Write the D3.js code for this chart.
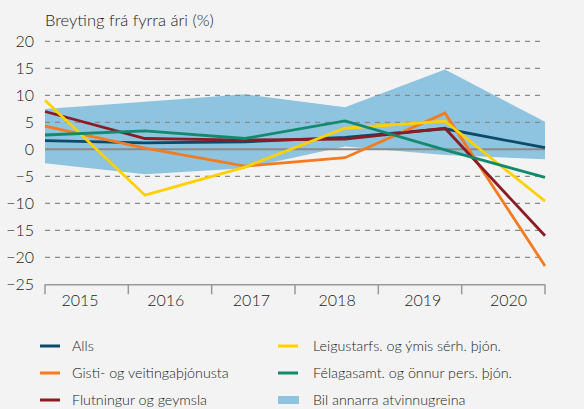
<!DOCTYPE html>
<html lang="is">
<head>
<meta charset="UTF-8">
<script src="https://d3js.org/d3.v7.min.js"></script>
<style>
  body { margin: 0; background: #f3f3f3; }
  svg { display: block; font-family: Lato, "Noto Sans", sans-serif; font-weight: 300; }
</style>
</head>
<body>
<svg width="584" height="409"></svg>
<script>
// Ár
const years = ["2015", "2016", "2017", "2018", "2019", "2020"];

// Breyting frá fyrra ári (%)
const alls = [1.6, 1.2, 1.4, 2.2, 3.8, 0.3];
const gisti = [4.3, 0.2, -3.1, -1.55, 6.7, -21.6];
const flutningur = [7.0, 2.0, 1.7, 1.9, 3.9, -16.0];
const leigustarfs = [9.1, -8.5, -3.3, 3.9, 5.2, -9.6];
const felagasamt = [2.65, 3.4, 2.0, 5.25, -0.1, -5.2];

// Bil annarra atvinnugreina
const bilHaest = [7.45, 8.8, 10.2, 7.8, 14.8, 5.1];
const bilLaegst = [-2.6, -4.6, -3.5, 0.5, -1.05, -1.85];

const yTicks = [20, 15, 10, 5, 0, -5, -10, -15, -20, -25];

const series = [
  { name: "Alls", values: alls, color: "#0b4a6b" },
  { name: "Gisti- og veitingaþjónusta", values: gisti, color: "#f47b20" },
  { name: "Flutningur og geymsla", values: flutningur, color: "#8b1c24" },
  { name: "Leigustarfs. og ýmis sérh. þjón.", values: leigustarfs, color: "#ffd100" },
  { name: "Félagasamt. og önnur pers. þjón.", values: felagasamt, color: "#138a6e" }
];
const bandColor = "#8ec4df";

const svg = d3.select("svg");
const mLeft = 45, mRight = 545, mTop = 41.3, mBottom = 284.3;

const x = d3.scalePoint().domain(years).range([mLeft, mRight]);
const xBand = d3.scaleBand().domain(years).range([mLeft, mRight]);
const xLabel = d3.scalePoint().domain(years).range([79.5, 508]);
const y = d3.scaleLinear().domain([-25, 20]).range([mBottom, mTop]);

// titill
svg.append("text")
  .attr("x", 45).attr("y", 26)
  .attr("font-size", 16.5).attr("fill", "#222")
  .text("Breyting frá fyrra ári (%)");

// bil annarra atvinnugreina
const area = d3.area()
  .x((d, i) => x(years[i]))
  .y0((d, i) => y(bilLaegst[i]))
  .y1(d => y(d));
svg.append("path")
  .datum(bilHaest)
  .attr("d", area)
  .attr("fill", bandColor);

// gridlínur
svg.append("g")
  .selectAll("line")
  .data(yTicks.filter(t => t !== 0 && t !== -25))
  .join("line")
  .attr("x1", mLeft).attr("x2", 541)
  .attr("y1", d => y(d)).attr("y2", d => y(d))
  .attr("stroke", "#8a8a8a")
  .attr("stroke-width", 1.2)
  .attr("stroke-dasharray", "5,5");

// núlllína
svg.append("line")
  .attr("x1", mLeft).attr("x2", mRight)
  .attr("y1", y(0)).attr("y2", y(0))
  .attr("stroke", "#8a8a8a").attr("stroke-width", 2);

// y-ás
const yAxis = svg.append("g")
  .attr("transform", `translate(${mLeft},0)`)
  .call(d3.axisLeft(y).tickValues(yTicks).tickSize(0).tickPadding(11));
yAxis.select(".domain").remove();
yAxis.selectAll("text").attr("font-size", 16).attr("fill", "#222").attr("font-family", "Lato, sans-serif");

// x-ás
svg.append("line")
  .attr("x1", mLeft).attr("x2", mRight)
  .attr("y1", mBottom + 0.5).attr("y2", mBottom + 0.5)
  .attr("stroke", "#999").attr("stroke-width", 1.5);
svg.append("g")
  .selectAll("line")
  .data(years.map(d => xBand(d)).concat([mRight]))
  .join("line")
  .attr("x1", d => d).attr("x2", d => d)
  .attr("y1", mBottom).attr("y2", mBottom + 10)
  .attr("stroke", "#999").attr("stroke-width", 1.5);
const xAxis = svg.append("g")
  .attr("transform", `translate(0,${mBottom})`)
  .call(d3.axisBottom(xLabel).tickSize(0).tickPadding(10));
xAxis.select(".domain").remove();
xAxis.selectAll("text").attr("font-size", 16).attr("fill", "#222").attr("font-family", "Lato, sans-serif");

// línur
const line = d3.line()
  .x((d, i) => x(years[i]))
  .y(d => y(d));
svg.append("g")
  .selectAll("path")
  .data(series)
  .join("path")
  .attr("d", d => line(d.values))
  .attr("fill", "none")
  .attr("stroke", d => d.color)
  .attr("stroke-width", 2.8)
  .attr("stroke-linejoin", "miter");

// skýringar
const legendItems = series.slice(0, 3).map((s, i) => ({ ...s, col: 0, row: i }))
  .concat(series.slice(3).map((s, i) => ({ ...s, col: 1, row: i })))
  .concat([{ name: "Bil annarra atvinnugreina", color: bandColor, col: 1, row: 2, band: true }]);

const legend = svg.append("g")
  .selectAll("g")
  .data(legendItems)
  .join("g")
  .attr("transform", d => `translate(${d.col === 0 ? 40 : 278},${346 + d.row * 27})`);
legend.filter(d => !d.band).append("line")
  .attr("x1", 0).attr("x2", 20)
  .attr("stroke", d => d.color).attr("stroke-width", 3);
legend.filter(d => d.band).append("rect")
  .attr("x", 0).attr("y", -4).attr("width", 21).attr("height", 8)
  .attr("fill", d => d.color);
legend.append("text")
  .attr("x", d => d.col === 0 ? 32 : 35)
  .attr("dy", "0.35em")
  .attr("font-size", 14.3).attr("fill", "#222")
  .text(d => d.name);
</script>
</body>
</html>
